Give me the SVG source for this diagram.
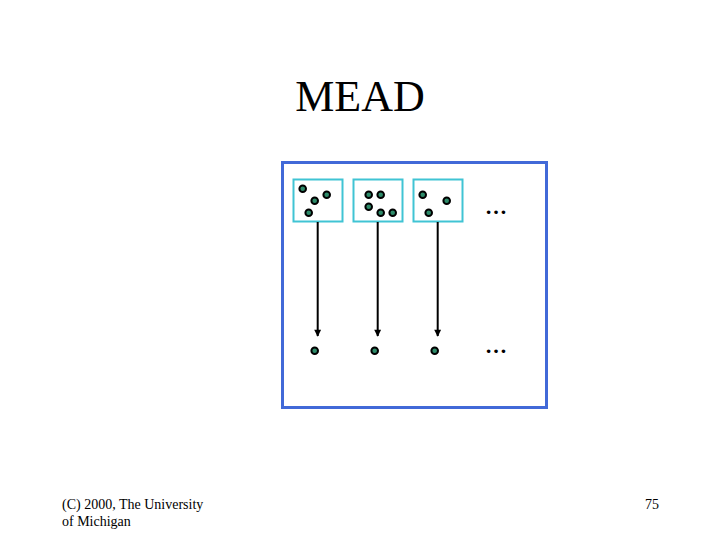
<svg xmlns="http://www.w3.org/2000/svg" width="720" height="540" viewBox="0 0 720 540">
<style>
.t{font-family:"Liberation Serif","Times New Roman",serif;fill:#000}
.box{fill:#fff;stroke:#40C4D4;stroke-width:2}
.dot{fill:#2E8B6A;stroke:#000;stroke-width:2}
.conn{stroke:#000;stroke-width:2;fill:none;marker-end:url(#ah)}
</style>
<defs>
<marker id="ah" viewBox="0 0 10 10" refX="9" refY="5" markerWidth="8" markerHeight="7" markerUnits="userSpaceOnUse" orient="auto">
<path d="M0,0 L10,5 L0,10 z" fill="#000"/>
</marker>
</defs>
<rect width="720" height="540" fill="#fff"/>
<text class="t" x="360" y="111" font-size="44" text-anchor="middle">MEAD</text>
<g id="frame"><rect x="282.5" y="162.5" width="264" height="245" fill="#fff" stroke="#4169D8" stroke-width="3"/></g>
<g id="set1">
<rect class="box" x="293.5" y="179.5" width="49" height="42"/>
<circle class="dot" cx="302.7" cy="188.7" r="3.3"/>
<circle class="dot" cx="326.7" cy="194.7" r="3.3"/>
<circle class="dot" cx="314.7" cy="200.7" r="3.3"/>
<circle class="dot" cx="308.7" cy="212.7" r="3.3"/>
</g>
<g id="set2">
<rect class="box" x="353.5" y="179.5" width="49" height="42"/>
<circle class="dot" cx="368.7" cy="194.7" r="3.3"/>
<circle class="dot" cx="380.7" cy="194.7" r="3.3"/>
<circle class="dot" cx="368.7" cy="206.7" r="3.3"/>
<circle class="dot" cx="380.7" cy="212.7" r="3.3"/>
<circle class="dot" cx="392.7" cy="212.7" r="3.3"/>
</g>
<g id="set3">
<rect class="box" x="413.5" y="179.5" width="49" height="42"/>
<circle class="dot" cx="422.7" cy="194.7" r="3.3"/>
<circle class="dot" cx="446.7" cy="200.7" r="3.3"/>
<circle class="dot" cx="428.7" cy="212.7" r="3.3"/>
</g>
<g id="out1"><circle class="dot" cx="314.7" cy="350.7" r="3.3"/></g>
<g id="out2"><circle class="dot" cx="374.7" cy="350.7" r="3.3"/></g>
<g id="out3"><circle class="dot" cx="434.7" cy="350.7" r="3.3"/></g>
<g id="connectors">
<line class="conn" x1="317.7" y1="222" x2="317.7" y2="336"/>
<line class="conn" x1="377.7" y1="222" x2="377.7" y2="336"/>
<line class="conn" x1="437.7" y1="222" x2="437.7" y2="336"/>
</g>
<text class="t" x="485" y="214" font-size="22" font-weight="bold">…</text>
<text class="t" x="485" y="353" font-size="22" font-weight="bold">…</text>
<text class="t" x="62" y="509" font-size="14">(C) 2000, The University</text>
<text class="t" x="62" y="526" font-size="14">of Michigan</text>
<text class="t" x="645" y="509" font-size="14">75</text>
</svg>
